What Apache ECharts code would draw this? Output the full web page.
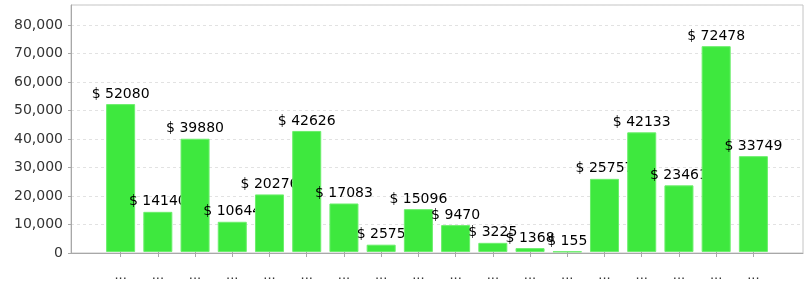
<!DOCTYPE html>
<html><head><meta charset="utf-8">
<script src="https://cdn.jsdelivr.net/npm/echarts@6/dist/echarts.min.js"></script>
<style>html,body{margin:0;padding:0;background:#fff}#c{width:805px;height:282px}</style>
</head><body><div id="c"></div>
<script>
const categories = ['...','...','...','...','...','...','...','...','...','...','...','...','...','...','...','...','...','...'];
const values = [52080, 14140, 39880, 10644, 20276, 42626, 17083, 2575, 15096, 9470, 3225, 1368, 155, 25757, 42133, 23461, 72478, 33749];
const yTicks = [0, 10000, 20000, 30000, 40000, 50000, 60000, 70000, 80000];
const yMax = 86974;

const font = 'DejaVu Sans';
const series = values.map((v, i) => ({
  type: 'bar', xAxisIndex: 1, yAxisIndex: 1,
  z: 2 + i,
  barWidth: '78%', barGap: '-100%',
  itemStyle: { color: '#3ee83e', borderColor: '#6cef6c', borderWidth: 1 },
  label: { show: true, position: 'top', distance: 3, color: '#000', fontFamily: font, fontSize: 14,
    formatter: p => '$ ' + p.value },
  data: values.map((w, j) => j === i ? w : null)
}));

const chart = echarts.init(document.getElementById('c'), null, { renderer: 'canvas' });
chart.setOption({
  animation: false,
  grid: [
    { left: 71, right: 2, top: 5, bottom: 29, show: true, borderColor: '#c4c4c4', borderWidth: 1 },
    { left: 102, right: 33, top: 5, bottom: 29 }
  ],
  xAxis: [
    { gridIndex: 0, type: 'value', min: 0, max: 1, axisLabel: { show: false }, splitLine: { show: false },
      axisTick: { show: false }, axisLine: { show: true, lineStyle: { color: '#a8a8a8' } } },
    { gridIndex: 1, type: 'category', data: categories,
      axisLine: { show: false },
      axisTick: { show: true, alignWithLabel: true, length: 5, lineStyle: { color: '#a8a8a8' } },
      axisLabel: { color: '#333', fontFamily: font, fontSize: 13, margin: 17 } }
  ],
  yAxis: [
    { gridIndex: 0, type: 'value', min: 0, max: yMax, interval: 10000,
      axisLine: { show: true, lineStyle: { color: '#a8a8a8' } },
      axisTick: { show: true, length: 3, lineStyle: { color: '#a8a8a8' } },
      axisLabel: { color: '#333', fontFamily: font, fontSize: 14, margin: 8, showMaxLabel: false,
        formatter: v => yTicks.includes(v) ? v.toLocaleString('en-US') : '' },
      splitLine: { show: true, lineStyle: { color: '#e2e2e2', type: [3, 3] } } },
    { gridIndex: 1, type: 'value', min: 0, max: yMax, show: false, splitLine: { show: false } }
  ],
  series: series
});
</script></body></html>
